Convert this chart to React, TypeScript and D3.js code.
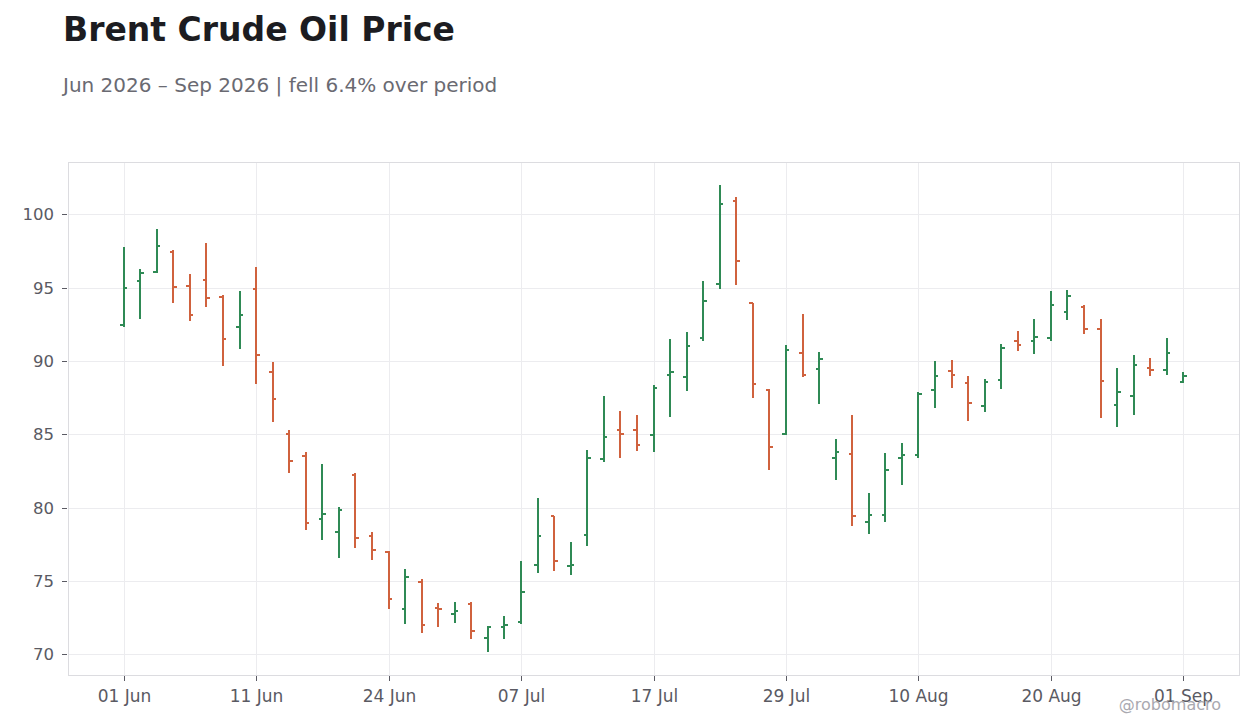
import React, { useEffect, useRef } from "react";
import * as d3 from "d3";

// daily OHLC, US trading days from 01 Jun 2026
const START_DATE = "2026-06-01";
const HOLIDAYS = ["2026-06-19", "2026-07-03"];

const opens = [
  92.45, 95.45, 96.05, 97.45, 95.1, 95.52, 94.36, 92.32, 94.9, 89.25,
  85.05, 83.53, 79.25, 78.34, 82.23, 78.09, 76.99, 73.1, 74.94, 73.17,
  72.76, 73.45, 71.14, 71.87, 72.17, 76.07, 79.43, 76.0, 78.13, 83.33,
  85.32, 85.32, 84.98, 89.06, 88.92, 91.58, 95.26, 100.91, 93.96, 88.04,
  85.02, 90.56, 89.44, 83.4, 83.65, 79.02, 79.5, 83.38, 83.58, 88.0,
  89.3, 88.48, 86.92, 88.73, 91.35, 91.37, 91.58, 93.34, 93.68, 92.19,
  87.02, 87.63, 89.54, 89.4, 88.58,
];
const highs = [
  97.8, 96.25, 98.98, 97.55, 95.9, 98.02, 94.52, 94.75, 96.39, 89.91,
  85.32, 83.78, 82.98, 80.02, 82.35, 78.31, 77.02, 75.81, 75.13, 73.49,
  73.55, 73.55, 71.94, 72.63, 76.39, 80.64, 79.45, 77.63, 83.93, 87.63,
  86.6, 86.32, 88.37, 91.49, 91.96, 95.44, 101.98, 101.16, 93.98, 88.08,
  91.08, 93.19, 90.6, 84.67, 86.35, 80.98, 83.76, 84.44, 87.91, 90.02,
  90.09, 89.0, 88.8, 91.18, 92.02, 92.85, 94.75, 94.84, 93.8, 92.85,
  89.51, 90.4, 90.19, 91.55, 89.24,
];
const lows = [
  92.35, 92.85, 96.0, 93.95, 92.7, 93.66, 89.66, 90.82, 88.43, 85.84,
  82.39, 78.5, 77.81, 76.58, 77.27, 76.45, 73.1, 72.07, 71.46, 71.87,
  72.14, 71.06, 70.18, 71.07, 72.1, 75.53, 75.66, 75.39, 77.37, 83.13,
  83.4, 83.88, 83.81, 86.2, 87.97, 91.37, 94.91, 95.19, 87.49, 82.55,
  84.97, 88.92, 87.08, 81.88, 78.75, 78.21, 79.02, 81.54, 83.38, 86.78,
  88.14, 85.9, 86.51, 88.07, 90.68, 90.49, 91.37, 92.8, 91.85, 86.13,
  85.52, 86.34, 88.99, 89.06, 88.51,
];
const closes = [
  95.0, 96.0, 97.84, 95.05, 93.14, 94.3, 91.5, 93.14, 90.41, 87.41,
  83.19, 78.97, 79.59, 79.86, 77.95, 77.11, 73.78, 75.26, 72.0, 73.12,
  72.96, 71.6, 71.83, 72.01, 74.22, 78.06, 76.35, 76.07, 83.4, 84.84,
  85.05, 84.29, 88.19, 89.26, 91.03, 94.1, 100.7, 96.82, 88.44, 84.15,
  90.74, 89.04, 90.12, 83.8, 79.43, 79.5, 82.56, 83.58, 87.73, 88.96,
  89.02, 87.12, 88.55, 90.86, 91.08, 91.64, 93.82, 94.43, 92.19, 88.65,
  87.9, 89.74, 89.4, 90.56, 88.99,
];

const yTicks = [70, 75, 80, 85, 90, 95, 100];
const X_TICK_EVERY = 8;

const TITLE = "Brent Crude Oil Price";
const SUBTITLE = "Jun 2026 \u2013 Sep 2026 | fell 6.4% over period";
const CREDIT = "@robomacro";

const UP = "#2f8a55";
const DOWN = "#d0623e";
const FONT = "'DejaVu Sans', sans-serif";

function tradingDays(start: string, count: number, holidays: string[]) {
  const fmt = d3.utcFormat("%Y-%m-%d");
  const out: Date[] = [];
  let d = new Date(start + "T00:00:00Z");
  while (out.length < count) {
    const wd = d.getUTCDay();
    if (wd !== 0 && wd !== 6 && !holidays.includes(fmt(d))) out.push(d);
    d = d3.utcDay.offset(d, 1);
  }
  return out;
}

export default function App() {
  const svgRef = useRef<SVGSVGElement | null>(null);
  const width = 1260;
  const height = 728;

  useEffect(() => {
    if (!svgRef.current) return;
    document.body.style.margin = "0";

    const svg = d3.select(svgRef.current);
    svg.selectAll("*").remove();

    const n = closes.length;
    const dates = tradingDays(START_DATE, n, HOLIDAYS);
    const left = 68, right = 1239, top = 162, bottom = 675;

    // index axis, padded like the source
    const pad = 3.36;
    const x = d3.scaleLinear().domain([-pad, n - 1 + pad]).range([left, right]);

    const lo = d3.min(lows)!;
    const hi = d3.max(highs)!;
    const span = hi - lo;
    const y = d3.scaleLinear()
      .domain([lo - span * 0.05, hi + span * 0.05])
      .range([bottom, top]);

    svg.append("rect")
      .attr("width", width).attr("height", height)
      .attr("fill", "#ffffff");

    // title
    svg.append("text")
      .attr("x", 63).attr("y", 41)
      .attr("font-family", FONT).attr("font-size", 33).attr("font-weight", "bold")
      .attr("fill", "#1c1c21")
      .text(TITLE);
    svg.append("text")
      .attr("x", 63).attr("y", 92)
      .attr("font-family", FONT).attr("font-size", 20)
      .attr("fill", "#6a6a72")
      .text(SUBTITLE);

    // grid
    const xTickIdx = d3.range(0, n, X_TICK_EVERY);
    const grid = svg.append("g").attr("stroke", "#ececef").attr("stroke-width", 1);
    grid.selectAll("line.h").data(yTicks).enter().append("line")
      .attr("x1", left).attr("x2", right)
      .attr("y1", d => Math.round(y(d)) + 0.5).attr("y2", d => Math.round(y(d)) + 0.5);
    grid.selectAll("line.v").data(xTickIdx).enter().append("line")
      .attr("y1", top).attr("y2", bottom)
      .attr("x1", d => Math.round(x(d)) + 0.5).attr("x2", d => Math.round(x(d)) + 0.5);

    // frame
    svg.append("rect")
      .attr("x", left + 0.5).attr("y", top + 0.5)
      .attr("width", right - left).attr("height", bottom - top)
      .attr("fill", "none").attr("stroke", "#dcdce0");

    // y axis
    const yAxis = svg.append("g");
    yTicks.forEach(t => {
      const yy = Math.round(y(t)) + 0.5;
      yAxis.append("line")
        .attr("x1", 62).attr("x2", 67).attr("y1", yy).attr("y2", yy)
        .attr("stroke", "#5a5a63");
      yAxis.append("text")
        .attr("x", 54).attr("y", yy).attr("dy", "0.36em")
        .attr("text-anchor", "end")
        .attr("font-family", FONT).attr("font-size", 16.5)
        .attr("fill", "#5a5a63")
        .text(t);
    });

    // x axis
    const fmt = d3.utcFormat("%d %b");
    const xAxis = svg.append("g");
    xTickIdx.forEach(i => {
      const xx = Math.round(x(i)) + 0.5;
      xAxis.append("line")
        .attr("x1", xx).attr("x2", xx).attr("y1", bottom + 1).attr("y2", bottom + 6)
        .attr("stroke", "#5a5a63");
      xAxis.append("text")
        .attr("x", xx).attr("y", 702)
        .attr("text-anchor", "middle")
        .attr("font-family", FONT).attr("font-size", 17)
        .attr("fill", "#5a5a63")
        .text(fmt(dates[i]));
    });

    // OHLC bars
    const bars = svg.append("g").attr("shape-rendering", "crispEdges");
    const rows = d3.range(n).map(i => ({
      i, o: opens[i], h: highs[i], l: lows[i], c: closes[i],
    }));
    const g = bars.selectAll("g.bar").data(rows).enter().append("g")
      .attr("stroke", d => (d.c >= d.o ? UP : DOWN))
      .attr("stroke-width", 2);
    g.append("line")
      .attr("x1", d => x(d.i)).attr("x2", d => x(d.i))
      .attr("y1", d => y(d.h)).attr("y2", d => y(d.l));
    g.append("line")
      .attr("x1", d => x(d.i) - 3.5).attr("x2", d => x(d.i))
      .attr("y1", d => y(d.o)).attr("y2", d => y(d.o));
    g.append("line")
      .attr("x1", d => x(d.i)).attr("x2", d => x(d.i) + 3.5)
      .attr("y1", d => y(d.c)).attr("y2", d => y(d.c));

    // credit
    svg.append("text")
      .attr("x", 1221).attr("y", 710)
      .attr("text-anchor", "end")
      .attr("font-family", FONT).attr("font-size", 16)
      .attr("fill", "#a9a9b0")
      .text(CREDIT);
  }, []);

  return (
    <svg
      ref={svgRef}
      width={width}
      height={height}
      style={{ position: "absolute", left: 0, top: 0, display: "block" }}
    />
  );
}
